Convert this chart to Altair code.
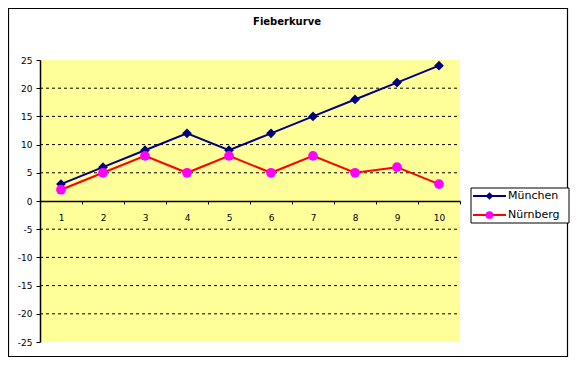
import altair as alt
import pandas as pd

# ---- data ----
categories = [1, 2, 3, 4, 5, 6, 7, 8, 9, 10]
muenchen = [3, 6, 9, 12, 9, 12, 15, 18, 21, 24]
nuernberg = [2, 5, 8, 5, 8, 5, 8, 5, 6, 3]
series_names = ["München", "Nürnberg"]
series_values = [muenchen, nuernberg]
line_colors = ["#000080", "#FF0000"]
marker_colors = ["#000080", "#FF00FF"]
marker_shapes = ["diamond", "circle"]
y_ticks = [-25, -20, -15, -10, -5, 0, 5, 10, 15, 20, 25]
grid_values = [-20, -15, -10, -5, 5, 10, 15, 20]
title_text = "Fieberkurve"

W, H = 420, 282
FONT = "DejaVu Sans"
PAD = {"left": 32, "top": 52, "right": 110, "bottom": 16}

one = pd.DataFrame({"a": [0]})

x_enc = alt.X(
    "cat:O", sort=categories,
    scale=alt.Scale(paddingInner=0, paddingOuter=0),
    axis=alt.Axis(title=None, orient="bottom", offset=-H / 2, tickBand="extent",
                  labelAngle=0, domainColor="black", domainWidth=1.5, tickColor="black",
                  tickSize=3, labelFont=FONT, labelFontSize=9, labelColor="black",
                  labelPadding=9, grid=False, zindex=1),
)
y_scale = alt.Scale(domain=[-25, 25], nice=False, zero=False)
y_axis = alt.Axis(title=None, values=y_ticks, grid=False, tickSize=4, tickColor="black",
                  domainColor="black", domainWidth=1.5, labelFont=FONT, labelFontSize=9,
                  labelColor="black", labelPadding=4, zindex=1,
                  labelExpr="toString(datum.value)")

layers = []

# outer frame
layers.append(
    alt.Chart(one).mark_rect(fill="white", stroke="black", strokeWidth=1.2).encode(
        x=alt.value(-31.5), x2=alt.value(W + PAD["right"] - 2.5),
        y=alt.value(-PAD["top"] + 0.5), y2=alt.value(H + PAD["bottom"] - 1.5))
)
# plot area background
layers.append(
    alt.Chart(one).mark_rect(fill="#FFFF99").encode(
        x=alt.value(0), x2=alt.value(W), y=alt.value(0), y2=alt.value(H))
)
# dashed grid
grid_df = pd.DataFrame({"value": grid_values})
layers.append(
    alt.Chart(grid_df).mark_rule(color="black", strokeDash=[3, 3], strokeWidth=1).encode(
        x=alt.value(0), x2=alt.value(W),
        y=alt.Y("value:Q", scale=y_scale, axis=y_axis))
)

for name, vals, lc, mc, shp in zip(series_names, series_values, line_colors, marker_colors, marker_shapes):
    d = pd.DataFrame({"cat": categories, "value": vals})
    layers.append(
        alt.Chart(d).mark_line(color=lc, strokeWidth=2).encode(
            x=x_enc, y=alt.Y("value:Q", scale=y_scale, axis=y_axis))
    )
    layers.append(
        alt.Chart(d).mark_point(color=mc, fill=mc, filled=True, shape=shp, size=95, opacity=1).encode(
            x=x_enc, y=alt.Y("value:Q", scale=y_scale, axis=y_axis))
    )

# title
layers.append(
    alt.Chart(pd.DataFrame({"t": [title_text]})).mark_text(
        font=FONT, fontSize=10, fontWeight="bold", color="black", align="center", baseline="middle"
    ).encode(x=alt.value(247), y=alt.value(-38), text="t:N")
)

# legend
LX0, LX1, LY0, LY1 = 431, 529, 128, 163
layers.append(
    alt.Chart(one).mark_rect(fill="white", stroke="black", strokeWidth=1).encode(
        x=alt.value(LX0), x2=alt.value(LX1), y=alt.value(LY0), y2=alt.value(LY1))
)
row_y = [136, 155]
for name, lc, mc, shp, ry in zip(series_names, line_colors, marker_colors, marker_shapes, row_y):
    layers.append(
        alt.Chart(one).mark_rule(color=lc, strokeWidth=2).encode(
            x=alt.value(433), x2=alt.value(466), y=alt.value(ry))
    )
    layers.append(
        alt.Chart(one).mark_point(color=mc, fill=mc, filled=True, shape=shp, size=60, opacity=1).encode(
            x=alt.value(449.5), y=alt.value(ry))
    )
    layers.append(
        alt.Chart(pd.DataFrame({"t": [name]})).mark_text(
            font=FONT, fontSize=11, color="black", align="left", baseline="middle"
        ).encode(x=alt.value(468), y=alt.value(ry), text="t:N")
    )

chart = alt.layer(*layers).properties(
    width=W, height=H, autosize=alt.AutoSizeParams(type="none"), padding=PAD
).configure_view(stroke="transparent").configure(background="white")

chart.save("out.html", embed_options={"renderer": "svg", "actions": False})
